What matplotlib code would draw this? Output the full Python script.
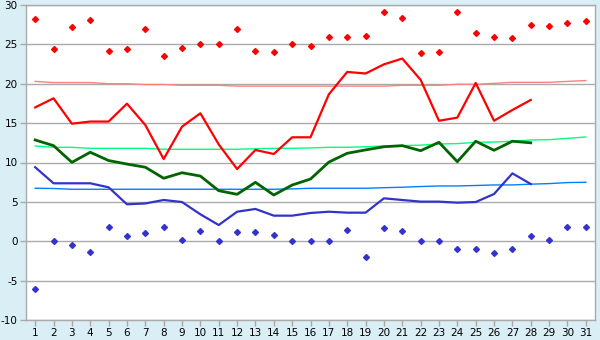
import matplotlib
matplotlib.use("Agg")
import matplotlib.pyplot as plt

days = list(range(1, 32))

max_temp = [28.2, 24.4, 27.2, 28.1, 24.2, 24.4, 27.0, 23.5, 24.5, 25.0,
            25.0, 27.0, 24.2, 24.0, 25.0, 24.75, 26.0, 26.0, 26.1, 29.1,
            28.4, 23.9, 24.0, 29.1, 26.5, 26.0, 25.75, 27.4, 27.3, 27.7, 28.0]
min_temp = [-6.0, 0.0, -0.5, -1.4, 1.77, 0.63, 1.0, 1.77, 0.13, 1.27,
            0.0, 1.14, 1.14, 0.76, 0.0, 0.0, 0.0, 1.4, -2.03, 1.65,
            1.27, 0.0, 0.0, -1.02, -1.02, -1.52, -1.02, 0.63, 0.13, 1.77, 1.77]

days_obs = list(range(1, 29))
mean_max = [17.0, 18.15, 14.93, 15.2, 15.2, 17.47, 14.76, 10.44, 14.55, 16.25,
            12.3, 9.17, 11.59, 11.08, 13.2, 13.2, 18.66, 21.5, 21.3, 22.46,
            23.2, 20.5, 15.3, 15.7, 20.1, 15.3, 16.67, 17.94]
mean_avg = [12.86, 12.14, 10.02, 11.3, 10.25, 9.8, 9.4, 8.0, 8.7, 8.28,
            6.42, 5.96, 7.48, 5.87, 7.14, 7.9, 10.05, 11.17, 11.6, 12.0,
            12.14, 11.5, 12.56, 10.1, 12.7, 11.55, 12.7, 12.5]
mean_min = [9.4, 7.36, 7.36, 7.36, 6.85, 4.69, 4.8, 5.24, 4.98, 3.42,
            2.06, 3.75, 4.1, 3.25, 3.25, 3.59, 3.75, 3.63, 3.63, 5.45,
            5.24, 5.03, 5.03, 4.9, 4.98, 6.0, 8.62, 7.27]

norm_max = [20.3, 20.15, 20.15, 20.15, 20.0, 20.0, 19.9, 19.9, 19.8, 19.8,
            19.8, 19.7, 19.7, 19.7, 19.7, 19.7, 19.7, 19.7, 19.7, 19.7,
            19.8, 19.8, 19.8, 19.93, 19.93, 20.05, 20.18, 20.18, 20.18, 20.3, 20.4]
norm_avg = [12.1, 11.93, 11.93, 11.8, 11.8, 11.8, 11.8, 11.68, 11.68, 11.68,
            11.68, 11.68, 11.75, 11.8, 11.8, 11.85, 11.93, 11.93, 12.0, 12.1,
            12.15, 12.2, 12.35, 12.4, 12.56, 12.6, 12.7, 12.86, 12.9, 13.07, 13.24]
norm_min = [6.73, 6.7, 6.6, 6.6, 6.6, 6.6, 6.6, 6.6, 6.6, 6.6,
            6.6, 6.6, 6.6, 6.6, 6.65, 6.73, 6.73, 6.73, 6.73, 6.8,
            6.86, 6.95, 7.02, 7.02, 7.08, 7.15, 7.15, 7.25, 7.32, 7.45, 7.49]

y_ticks = list(range(-10, 31, 5))

fig = plt.figure(figsize=(6, 3.4), dpi=100)
fig.patch.set_facecolor("#d9eef5")
ax = fig.add_axes([26/600, 20/340, 569/600, 315/340])
ax.set_facecolor("white")

for yv in y_ticks:
    ax.axhline(yv, color="#aaaaaa", lw=1, zorder=1)

ax.plot(days, norm_max, color="#ff8080", lw=1, zorder=2)
ax.plot(days, norm_avg, color="#00ff80", lw=1, zorder=2)
ax.plot(days, norm_min, color="#0080ff", lw=1, zorder=2)

ax.plot(days_obs, mean_max, color="#ff0000", lw=1.6, zorder=3)
ax.plot(days_obs, mean_avg, color="#006400", lw=2.0, zorder=3)
ax.plot(days_obs, mean_min, color="#3333cc", lw=1.6, zorder=3)

ax.plot(days, max_temp, linestyle="none", marker="D", markersize=3.0,
        color="#ff0000", zorder=4)
ax.plot(days, min_temp, linestyle="none", marker="D", markersize=3.0,
        color="#3333cc", zorder=4)

ax.set_xlim(0.5, 31.5)
ax.set_ylim(-10, 30)
ax.set_xticks(days)
ax.set_xticklabels([str(d) for d in days])
ax.set_yticks(y_ticks)
ax.set_yticklabels([str(v) for v in y_ticks])

for s in ax.spines.values():
    s.set_color("#aaaaaa")
    s.set_linewidth(1)

ax.tick_params(axis="both", colors="#aaaaaa", labelcolor="black",
               labelsize=7.5, length=4, width=1, pad=2)

fig.savefig("out.png", dpi=100, facecolor=fig.get_facecolor())
